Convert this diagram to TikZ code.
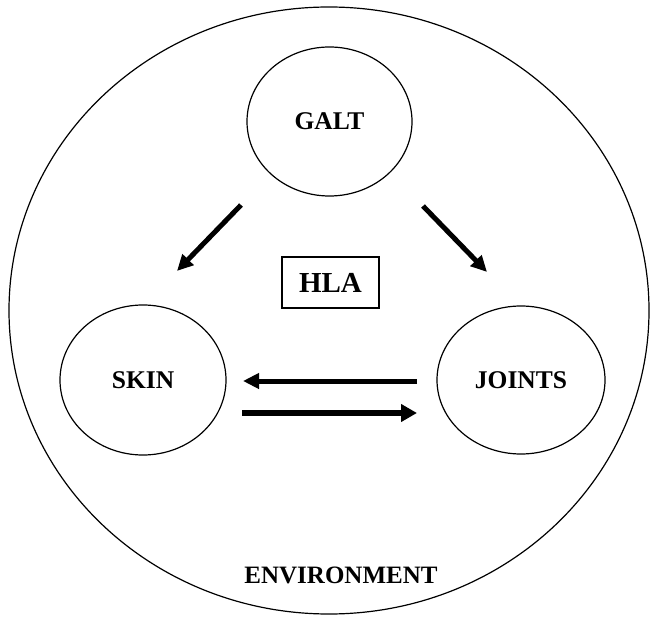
\documentclass[tikz,border=0pt]{standalone}
\usepackage{fontspec}
\setmainfont{Liberation Serif}
\usetikzlibrary{shapes.geometric,arrows.meta}
\tikzset{
  circ/.style={draw, ellipse, line width=1.2pt, inner sep=0pt},
  lbl/.style={font=\fontsize{25.5}{28}\selectfont\bfseries},
  arr/.style={line width=5pt, -{Triangle[length=16pt,width=15pt]}},
  arrthick/.style={line width=6.5pt, -{Triangle[length=16pt,width=17pt]}}
}
\begin{document}
\begin{tikzpicture}[x=1pt,y=-1pt]
\useasboundingbox (0,0) rectangle (650,617);
\fill[white] (0,0) rectangle (650,617);
% environment
\node[circ, minimum width=640pt, minimum height=607pt] (env) at (329,310.5) {};
\node[font=\fontsize{25}{28}\selectfont\bfseries] (envlbl) at (341,575) {ENVIRONMENT};
% organs
\node[circ, minimum width=165pt, minimum height=149pt] (galt) at (329.5,121.5) {};
\node[lbl] at (galt.center) {GALT};
\node[circ, minimum width=166pt, minimum height=150pt] (skin) at (143,380) {};
\node[lbl] at (skin.center) {SKIN};
\node[circ, minimum width=168pt, minimum height=148pt] (joints) at (521,380) {};
\node[lbl] at (joints.center) {JOINTS};
% HLA
\node[draw, line width=1.2pt, minimum width=97pt, minimum height=51pt, inner sep=0pt,
      font=\fontsize{29}{32}\selectfont\bfseries] (hla) at (330.5,282.5) {HLA};
% arrow endpoints
\coordinate (g1) at (241,205);
\coordinate (s1) at (177,271);
\coordinate (g2) at (423,206);
\coordinate (j1) at (487,272);
\coordinate (j2) at (417,381);
\coordinate (s2) at (243,381);
\coordinate (s3) at (242,413);
\coordinate (j3) at (417,413);
\draw[arr] (g1) -- (s1);
\draw[arr] (g2) -- (j1);
\draw[arr] (j2) -- (s2);
\draw[arrthick] (s3) -- (j3);
\end{tikzpicture}
\end{document}
